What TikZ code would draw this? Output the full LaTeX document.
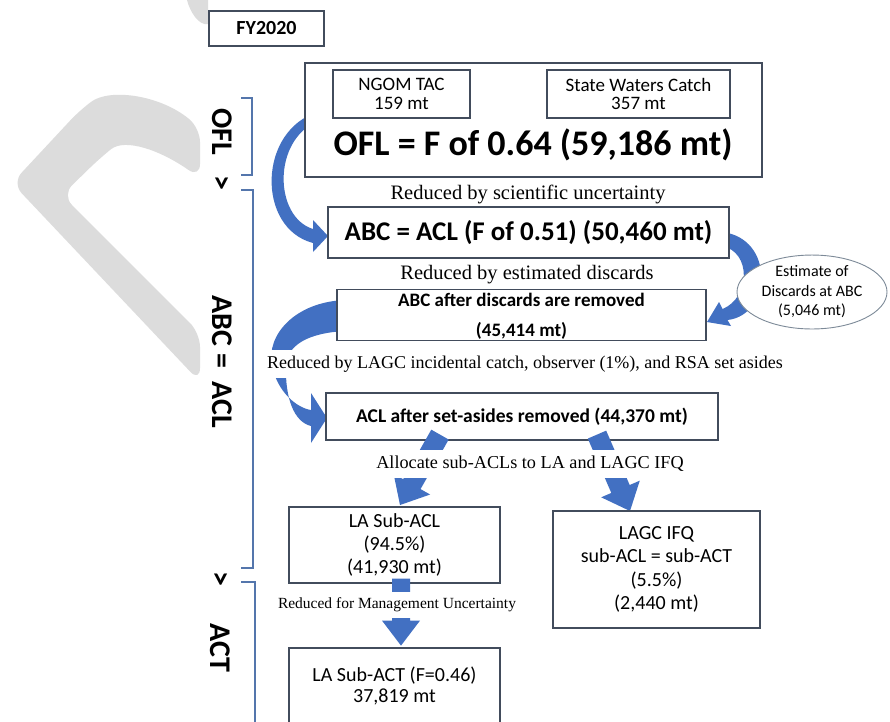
\documentclass[tikz,border=0pt]{standalone}
\usepackage{fontspec}
\setmainfont{Liberation Serif}
\setsansfont{Carlito}
\usetikzlibrary{arrows.meta,shapes.geometric,calc}

\definecolor{flowblue}{RGB}{66,112,194}
\definecolor{boxline}{RGB}{66,76,92}
\definecolor{bracketblue}{RGB}{84,118,172}
\definecolor{wmgrey}{RGB}{220,220,220}
\definecolor{ovalline}{RGB}{125,138,152}

\newcommand{\fsz}[2]{\fontsize{#1pt}{#2pt}\selectfont}
% straight block arrow: #1 tail, #2 tip, #3 shaft half width, #4 head half width, #5 head length
\newcommand{\blockarrow}[5]{%
  \fill[flowblue] let \p1=(#1), \p2=(#2), \n1={atan2(\y2-\y1,\x2-\x1)} in
    ($(\p1)+(\n1+90:#3)$) -- ($(\p2)+(\n1+180:#5)+(\n1+90:#3)$)
    -- ($(\p2)+(\n1+180:#5)+(\n1+90:#4)$) -- (\p2)
    -- ($(\p2)+(\n1+180:#5)+(\n1-90:#4)$) -- ($(\p2)+(\n1+180:#5)+(\n1-90:#3)$)
    -- ($(\p1)+(\n1-90:#3)$) -- cycle;}

\begin{document}
\begin{tikzpicture}[x=1pt,y=-1pt,
  box/.style={draw=boxline,line width=1.2pt,fill=white,inner sep=0pt,align=center,font=\sffamily\fsz{20}{23}},
  note/.style={inner xsep=3pt,inner ysep=1pt,font=\rmfamily\fsz{18.5}{22}},
  mask/.style={note,fill=white,inner ysep=6pt},
  sidelabel/.style={rotate=-90,inner sep=0pt,font=\sffamily\bfseries\fsz{30}{30}},
  bracket/.style={draw=bracketblue,line width=1.4pt},
  oval/.style={ellipse,draw=ovalline,line width=0.9pt,fill=white,inner sep=0pt,align=center,font=\sffamily\fsz{16}{19.5}}]

\useasboundingbox (0,0) rectangle (890,721);
\fill[white] (0,0) rectangle (890,721);

% faint watermark stroke on the left margin
\fill[wmgrey, rounded corners=14pt] (12,183) -- (80,110) .. controls (110,88) and (160,95) .. (200,128)
  -- (200,178) .. controls (160,150) and (125,138) .. (100,158) -- (62,195) -- (200,333) -- (200,382) -- cycle;
\fill[wmgrey] (187,0) -- (208,0) -- (208,24) .. controls (199,26) and (190,12) .. cycle;

% side brackets and stage labels
\draw[bracket] (241,98) -- (252,98) -- (252,175) -- (241,175);
\draw[bracket] (241,190) -- (253,190) -- (253,568) -- (241,568);
\draw[bracket] (241,582) -- (255,582) -- (255,730);
\node[sidelabel] (lblofl) at (222,132) {OFL};
\node[sidelabel] (gtone) at (221,183) {>};
\node[sidelabel] (lblabc) at (222,362) {ABC = \ ACL};
\node[sidelabel] (gttwo) at (220,579) {>};
\node[sidelabel] (lblact) at (220,648) {ACT};

% curved block arrows (drawn first so boxes sit on top)
\fill[flowblue] (318,112) .. controls (258,130) and (256,228) .. (313,243) -- (313,252) -- (328,236)
  -- (313,220) -- (313,229) .. controls (274,217) and (272,140) .. (318,121) -- cycle;
\fill[flowblue] (345,300) .. controls (295,302) and (266,335) .. (272,365)
  .. controls (277,392) and (297,408) .. (311,410) -- (311,393) -- (327,418) -- (311,443) -- (311,426)
  .. controls (294,422) and (285,398) .. (286,366) .. controls (287,345) and (308,333) .. (345,331) -- cycle;
\fill[flowblue] (722,232) .. controls (775,238) and (772,315) .. (727.5,320) -- (731,326) -- (707,322)
  -- (719,302) -- (722.5,309) .. controls (750,298) and (752,252) .. (722,246) -- cycle;

% boxes
\node[box,font=\sffamily\bfseries\fsz{20}{23}, minimum width=115pt, minimum height=35pt] (fy) at (266.5,28.5) {FY2020};
\node[box, minimum width=457pt, minimum height=114pt] (oflbox) at (533.5,120) {};
\node[box, minimum width=137pt, minimum height=48pt, font=\sffamily\fsz{19}{18.5}] (ngom) at (401.5,94) {NGOM TAC\\159 mt};
\node[box, minimum width=183pt, minimum height=48pt, font=\sffamily\fsz{19}{18.5}] (state) at (638.5,94) {State Waters Catch\\357 mt};
\node[font=\sffamily\bfseries\fsz{36}{40}, inner sep=0pt] (ofltext) at (533,145) {OFL = F of 0.64 (59,186 mt)};

\node[box, minimum width=401pt, minimum height=51pt, font=\sffamily\bfseries\fsz{27}{30}] (abc) at (528.5,232.5) {ABC = ACL (F of 0.51) (50,460 mt)};
\node[box, minimum width=369pt, minimum height=51pt] (abcafter) at (521.5,315) {};
\node[font=\sffamily\bfseries\fsz{19}{30}, align=center, inner sep=0pt] (abcaftertext) at (521.5,316.5) {ABC after discards are removed\\(45,414 mt)};
\node[oval, minimum width=150pt, minimum height=72pt] (discards) at (812,292) {Estimate of\\Discards at ABC\\(5,046 mt)};
\node[box, minimum width=392pt, minimum height=47pt, font=\sffamily\bfseries\fsz{19.5}{23}] (acl) at (522,416.5) {ACL after set-asides removed (44,370 mt)};

% allocation arrows
\blockarrow{$(acl.south)+(-82,-6)$}{$(400,505)$}{10pt}{21pt}{24pt}
\blockarrow{$(acl.south)+(75,-6)$}{$(630,511)$}{10pt}{21pt}{24pt}

\node[box, minimum width=211pt, minimum height=76pt] (lasub) at (394.5,545) {LA Sub-ACL\\(94.5\%)\\(41,930 mt)};
\node[box, minimum width=207pt, minimum height=117pt, font=\sffamily\fsz{20}{23.5}] (lagcifq) at (656.5,569.5) {LAGC IFQ\\sub-ACL = sub-ACT\\(5.5\%)\\(2,440 mt)};

\blockarrow{$(lasub.south)+(6.5,-5)$}{$(lasub.south)+(6.5,62)$}{9pt}{19pt}{25pt}

\node[box, minimum width=211pt, minimum height=84pt] (lasubact) at (394.5,690) {};
\node[font=\sffamily\fsz{20}{21}, align=center, inner sep=0pt] (lasubacttext) at (394.5,686) {LA Sub-ACT (F=0.46)\\37,819 mt};

% step notes between boxes (the masked ones sit over the arrows)
\node[note, font=\rmfamily\fsz{20.5}{22}] (sci) at (528,194) {Reduced by scientific uncertainty};
\node[note, font=\rmfamily\fsz{20.5}{22}] (est) at (527,275) {Reduced by estimated discards};
\node[mask, font=\rmfamily\fsz{18}{22}] (setaside) at (525,364) {Reduced by LAGC incidental catch, observer (1\%), and RSA set asides};
\node[mask, font=\rmfamily\fsz{18.2}{22}] (alloc) at (530,464) {Allocate sub-ACLs to LA and LAGC IFQ};
\node[mask, font=\rmfamily\fsz{15.5}{18}] (mgmt) at (397,605) {Reduced for Management Uncertainty};
\end{tikzpicture}
\end{document}
